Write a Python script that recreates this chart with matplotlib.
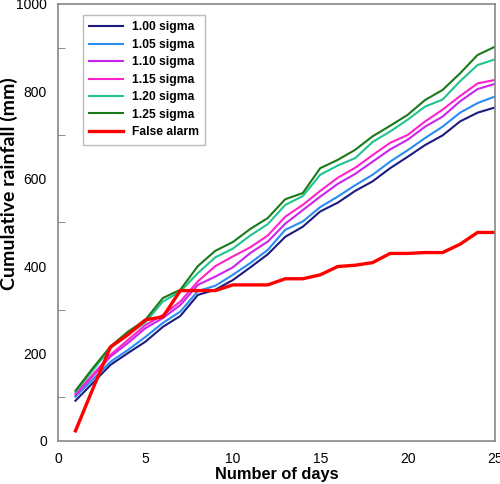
import numpy as np
import matplotlib
matplotlib.use('Agg')
import matplotlib.pyplot as plt

plt.rcParams['font.family'] = ['Liberation Sans', 'DejaVu Sans']

days = list(range(1, 26))

sigma_100 = [92, 133, 174, 201, 227, 261, 286, 334, 346, 368, 397, 427, 467,
             490, 525, 545, 572, 594, 624, 650, 677, 699, 731, 751, 763]
sigma_105 = [101, 141, 181, 208, 238, 270, 296, 343, 355, 380, 407, 437, 483,
             502, 535, 559, 585, 609, 639, 665, 693, 719, 751, 773, 788]
sigma_110 = [105, 149, 193, 224, 258, 281, 311, 357, 376, 397, 430, 456, 497,
             528, 559, 588, 611, 639, 667, 689, 719, 742, 777, 805, 817]
sigma_115 = [108, 152, 197, 231, 265, 288, 319, 365, 400, 422, 443, 470, 513,
             540, 572, 602, 625, 654, 682, 700, 731, 758, 789, 818, 826]
sigma_120 = [112, 162, 212, 243, 271, 319, 342, 384, 420, 440, 470, 496, 540,
             560, 609, 630, 647, 684, 708, 735, 765, 781, 823, 860, 873]
sigma_125 = [115, 167, 216, 250, 277, 327, 346, 400, 435, 455, 485, 510, 553,
             567, 624, 643, 666, 697, 721, 746, 780, 803, 841, 883, 902]
false_alarm = [23, 120, 215, 243, 277, 284, 344, 344, 344, 357, 357, 357, 371,
               371, 380, 399, 402, 408, 429, 429, 431, 431, 450, 477, 477]

series = [
    ('1.00 sigma', sigma_100, '#1c1c80'),
    ('1.05 sigma', sigma_105, '#2a8cf0'),
    ('1.10 sigma', sigma_110, '#cc22ee'),
    ('1.15 sigma', sigma_115, '#ff22cc'),
    ('1.20 sigma', sigma_120, '#22c38e'),
    ('1.25 sigma', sigma_125, '#1a7a1a'),
]

fig = plt.figure(figsize=(5.0, 4.84), dpi=100)
ax = fig.add_axes([0.116, 0.089, 0.874, 0.903])

for label, vals, color in series:
    ax.plot(days, vals, color=color, linewidth=1.5, label=label)
ax.plot(days, false_alarm, color='#ff0000', linewidth=2.4, label='False alarm')

ax.set_xlim(0, 25)
ax.set_ylim(0, 1000)

# labels without ticks, small inward ticks in between (Excel style)
ax.set_xticks([0, 5, 10, 15, 20, 25])
ax.set_yticks([0, 200, 400, 600, 800, 1000])
ax.set_xticks([5, 10, 15, 20], minor=True)
ax.set_yticks([100, 300, 500, 700, 900], minor=True)
ax.tick_params(which='major', length=0, labelsize=10)
ax.tick_params(axis='x', which='major', pad=8)
ax.tick_params(axis='y', which='major', pad=8)
ax.tick_params(which='minor', direction='in', length=5, color='#777777')

for s in ax.spines.values():
    s.set_color('#888888')
    s.set_linewidth(1.2)

ax.set_xlabel('Number of days', fontsize=11.8, fontweight='bold', labelpad=1)
fig.text(0.0, 0.62, 'Cumulative rainfall (mm)', rotation=90, ha='left',
         va='center', fontsize=14, fontweight='bold', family=['Lato', 'DejaVu Sans'])

leg = ax.legend(loc='upper left', bbox_to_anchor=(0.0565, 0.975), fontsize=8.7,
                fancybox=False, framealpha=1, edgecolor='#bbbbbb',
                borderaxespad=0, handlelength=2.8, handletextpad=0.7,
                labelspacing=0.45, borderpad=0.55)
for t in leg.get_texts():
    t.set_fontweight('bold')

fig.savefig('out.png', dpi=100)
